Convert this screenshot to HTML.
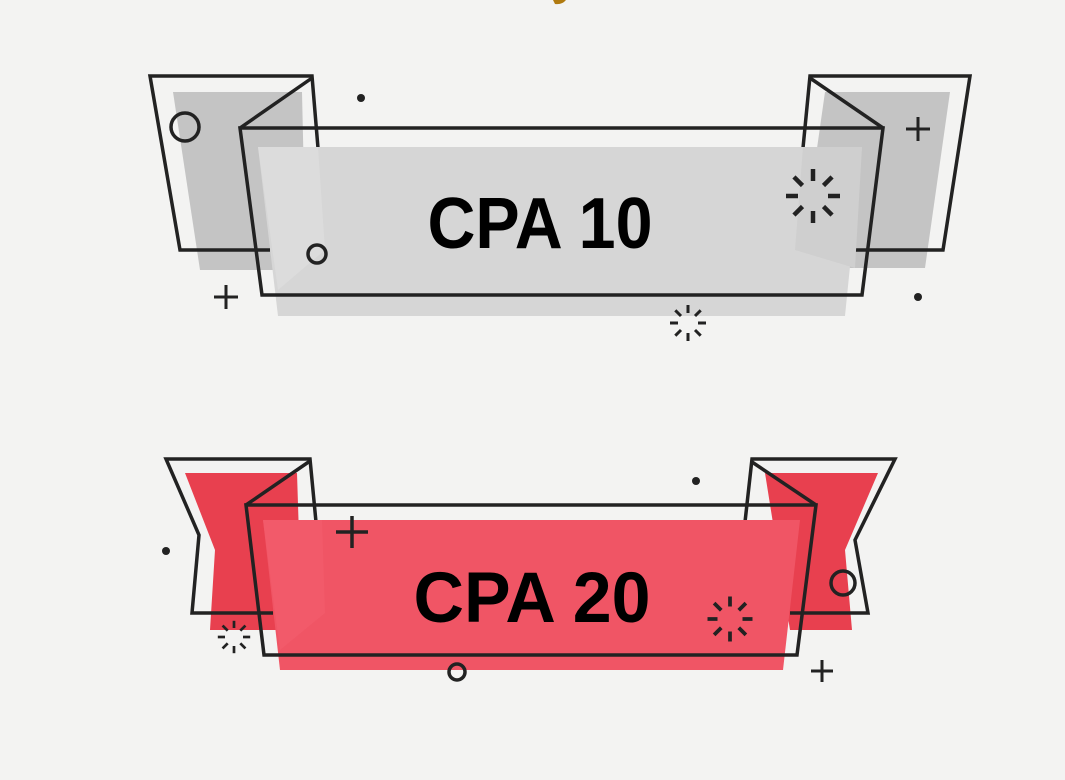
<!DOCTYPE html>
<html><head><meta charset="utf-8"><style>
html,body{margin:0;padding:0;background:#f3f3f2;}
svg{display:block}
</style></head><body>
<svg width="1065" height="780" viewBox="0 0 1065 780" xmlns="http://www.w3.org/2000/svg">
<defs>
<g id="sun"><g stroke="#222" stroke-width="3" stroke-linecap="butt">
<line x1="0" y1="-18" x2="0" y2="-10"/><line x1="0" y1="18" x2="0" y2="10"/>
<line x1="-18" y1="0" x2="-10" y2="0"/><line x1="18" y1="0" x2="10" y2="0"/>
<line x1="-12.7" y1="-12.7" x2="-7" y2="-7"/><line x1="12.7" y1="12.7" x2="7" y2="7"/>
<line x1="12.7" y1="-12.7" x2="7" y2="-7"/><line x1="-12.7" y1="12.7" x2="-7" y2="7"/>
</g></g>
</defs>
<rect width="1065" height="780" fill="#f3f3f2"/>
<path d="M553 0 L566 0 Q562 5 555 4 Z" fill="#b07a10"/>

<!-- TOP RIBBON -->
<polygon points="173,92 302,92 306,270 200,270" fill="#c4c4c4"/>
<polygon points="825,92 950,92 925,268 800,268" fill="#c4c4c4"/>
<polygon points="150,76 312,76 318,145 270,250 180,250" fill="none"/>
<polyline points="318,148 312,76 150,76 180,250 270,250" fill="none" stroke="#222" stroke-width="3.5"/>
<polyline points="803,148 810,76 970,76 943,250 852,250" fill="none" stroke="#222" stroke-width="3.5"/>
<polygon points="258,147 862,147 845,316 278,316" fill="#d6d6d6"/>
<polygon points="258,147 318,147 325,250 278,290" fill="#dcdcdc"/>
<polygon points="803,147 862,147 855,268 795,250" fill="#cfcfcf"/>
<line x1="312" y1="78" x2="240" y2="128" stroke="#222" stroke-width="3.5"/>
<line x1="810" y1="78" x2="883" y2="128" stroke="#222" stroke-width="3.5"/>
<polygon points="240,128 883,128 862,295 262,295" fill="none" stroke="#222" stroke-width="3.5"/>
<circle cx="185" cy="127" r="14" fill="none" stroke="#222" stroke-width="3.5"/>
<circle cx="317" cy="254" r="9" fill="none" stroke="#222" stroke-width="3.5"/>
<path d="M214 297 h24 M226 285 v24" stroke="#222" stroke-width="3"/>
<path d="M906 129 h24 M918 117 v24" stroke="#222" stroke-width="3"/>
<circle cx="361" cy="98" r="4" fill="#222"/>
<circle cx="918" cy="297" r="4" fill="#222"/>
<use href="#sun" transform="translate(813,196) scale(1.5)"/>
<use href="#sun" transform="translate(688,323) scale(1.0)"/>
<text x="540" y="248" text-anchor="middle" font-family="Liberation Sans, sans-serif" font-weight="bold" font-size="72" textLength="225" lengthAdjust="spacingAndGlyphs" fill="#000">CPA 10</text>

<!-- BOTTOM RIBBON -->
<polygon points="185,473 297,473 302,630 210,630 215,550" fill="#e8404f"/>
<polygon points="765,473 878,473 845,550 852,630 790,630" fill="#e8404f"/>
<polyline points="316,522 310,459 166,459 199,535 192,613 273,613" fill="none" stroke="#222" stroke-width="3.5"/>
<polyline points="745,522 752,459 895,459 855,540 868,613 790,613" fill="none" stroke="#222" stroke-width="3.5"/>
<polygon points="263,520 800,520 783,670 280,670" fill="#f05565"/>
<polygon points="263,520 322,520 325,613 280,650" fill="#f25a6a"/>
<line x1="310" y1="461" x2="246" y2="505" stroke="#222" stroke-width="3.5"/>
<line x1="752" y1="462" x2="816" y2="505" stroke="#222" stroke-width="3.5"/>
<polygon points="246,505 816,505 797,655 264,655" fill="none" stroke="#222" stroke-width="3.5"/>
<circle cx="843" cy="583" r="12" fill="none" stroke="#222" stroke-width="3.5"/>
<circle cx="457" cy="672" r="8" fill="none" stroke="#222" stroke-width="3.5"/>
<path d="M336 532 h32 M352 516 v32" stroke="#222" stroke-width="3.5"/>
<path d="M811 671 h22 M822 660 v22" stroke="#222" stroke-width="3"/>
<circle cx="696" cy="481" r="4" fill="#222"/>
<circle cx="166" cy="551" r="4" fill="#222"/>
<use href="#sun" transform="translate(234,637) scale(0.9)"/>
<use href="#sun" transform="translate(730,619) scale(1.25)"/>
<text x="532" y="622" text-anchor="middle" font-family="Liberation Sans, sans-serif" font-weight="bold" font-size="71" textLength="237" lengthAdjust="spacingAndGlyphs" fill="#000">CPA 20</text>
</svg>
</body></html>
